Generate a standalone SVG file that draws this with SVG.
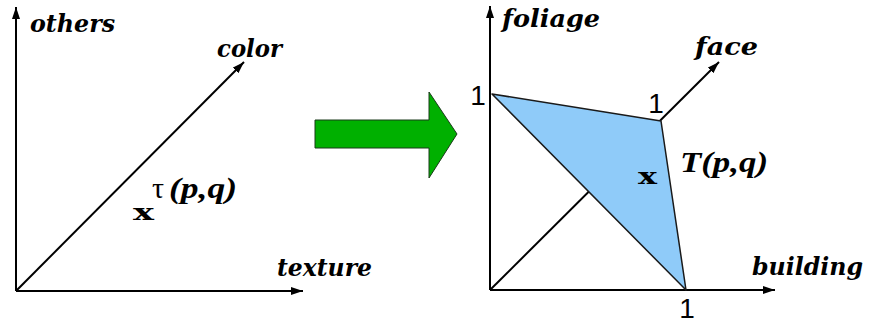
<svg xmlns="http://www.w3.org/2000/svg" width="870" height="324" viewBox="0 0 870 324">
  <style>
    .axis { stroke: #000; stroke-width: 2; fill: none; marker-end: url(#arrow); }
    .lbl { font-family: "DejaVu Serif", "Liberation Serif", serif; font-style: italic; font-weight: bold; font-size: 25px; fill: #000; }
    .num { font-family: "Liberation Sans", Arial, sans-serif; font-size: 28px; fill: #000; text-anchor: middle; }
    .pt { font-family: "DejaVu Serif", "Liberation Serif", serif; font-weight: bold; font-size: 22px; fill: #000; }
    .fn { font-family: "Liberation Serif", "Times New Roman", serif; font-size: 30px; fill: #000; }
    .bi { font-style: italic; font-weight: bold; }
  </style>
  <defs>
    <marker id="arrow" viewBox="0 0 12 8" refX="12" refY="4" markerWidth="12" markerHeight="8" markerUnits="userSpaceOnUse" orient="auto">
      <path d="M0,0 L12,4 L0,8 Z" fill="#000"/>
    </marker>
  </defs>
  <rect width="870" height="324" fill="#fff"/>

  <g id="connectors">
    <line class="axis" x1="16" y1="291" x2="16" y2="7"/>
    <line class="axis" x1="16" y1="291" x2="303" y2="291"/>
    <line class="axis" x1="16" y1="291" x2="244" y2="62"/>
    <line class="axis" x1="490" y1="290" x2="490" y2="6"/>
    <line class="axis" x1="490" y1="290" x2="775" y2="290"/>
    <line class="axis" x1="490" y1="290" x2="719" y2="62"/>
  </g>

  <g id="left-panel">
    <text class="lbl" x="30" y="32" textLength="85" lengthAdjust="spacingAndGlyphs">others</text>
    <text class="lbl" x="217" y="57" textLength="65" lengthAdjust="spacingAndGlyphs">color</text>
    <text class="lbl" x="277" y="276" textLength="95" lengthAdjust="spacingAndGlyphs">texture</text>
    <text class="pt" x="133" y="220" textLength="21" lengthAdjust="spacingAndGlyphs">x</text>
    <text class="fn" x="152" y="198" font-size="38">τ</text>
    <text class="fn bi" x="169" y="198" font-size="29" textLength="68" lengthAdjust="spacingAndGlyphs">(p,q)</text>
  </g>

  <g id="green-arrow">
    <path d="M315,120 L429,120 L429,92 L457,134 L429,178 L429,148 L315,148 Z" fill="#00b000" stroke="#1a3a1a" stroke-width="1"/>
  </g>

  <g id="region">
    <polygon points="492,94 661,121 686,290" fill="#8fcbf9" stroke="#1a1a1a" stroke-width="1.5" stroke-linejoin="round"/>
  </g>

  <g id="right-panel">
    <text class="lbl" x="502" y="27" textLength="98" lengthAdjust="spacingAndGlyphs">foliage</text>
    <text class="lbl" x="695" y="55" textLength="63" lengthAdjust="spacingAndGlyphs">face</text>
    <text class="lbl" x="752" y="275" textLength="111" lengthAdjust="spacingAndGlyphs">building</text>
    <text class="num" x="478" y="105">1</text>
    <text class="num" x="656" y="113">1</text>
    <text class="num" x="687" y="318" font-size="27">1</text>
    <text class="pt" x="638" y="184" textLength="19" lengthAdjust="spacingAndGlyphs">x</text>
    <text class="fn bi" x="680" y="172" font-size="35" textLength="88" lengthAdjust="spacingAndGlyphs">T(p,q)</text>
  </g>
</svg>
